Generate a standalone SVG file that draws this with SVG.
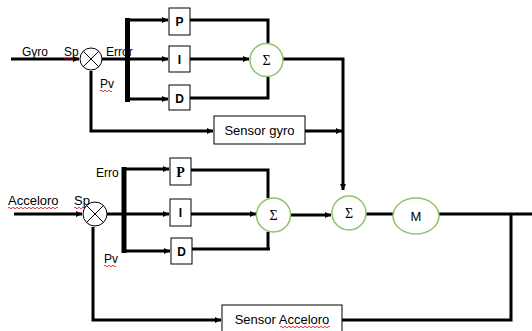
<svg xmlns="http://www.w3.org/2000/svg" width="532" height="331" viewBox="0 0 532 331">
<style>
.ln{stroke:#000;stroke-width:3;fill:none}
.bar{stroke:#000;stroke-width:5;fill:none}
.box{fill:#fff;stroke:#000;stroke-width:1}
.sum{fill:#fff;stroke:#8dc26f;stroke-width:1.5}
.cmp{fill:#fff;stroke:#000;stroke-width:1}
.t{font-family:"Liberation Sans",Arial,sans-serif;font-size:12px;fill:#000}
.t13{font-family:"Liberation Sans",Arial,sans-serif;font-size:13px;fill:#000}
.b{font-family:"Liberation Sans",Arial,sans-serif;font-size:12px;font-weight:bold;fill:#000}
.s{font-family:"Liberation Serif","Times New Roman",serif;font-size:14px;fill:#000}
.sq{stroke:#d00;stroke-width:0.8;fill:none}
</style>
<defs>
<marker id="ah" viewBox="0 0 6 6" refX="6" refY="3" markerWidth="2" markerHeight="2" orient="auto" markerUnits="strokeWidth">
<path d="M0,0 L6,3 L0,6 z" fill="#000"/>
</marker>
</defs>
<g id="connectors">
<line class="ln" x1="11" y1="59" x2="79" y2="59" marker-end="url(#ah)"/>
<line class="ln" x1="101" y1="59" x2="168" y2="59" marker-end="url(#ah)"/>
<line class="bar" x1="127.5" y1="18" x2="127.5" y2="102"/>
<line class="ln" x1="127" y1="20" x2="168" y2="20" marker-end="url(#ah)"/>
<line class="ln" x1="127" y1="99" x2="168" y2="99" marker-end="url(#ah)"/>
<polyline class="ln" points="190,20 268,20 268,43"/>
<line class="ln" x1="190" y1="59" x2="249" y2="59" marker-end="url(#ah)"/>
<polyline class="ln" points="190,98 268,98 268,77"/>
<polyline class="ln" points="283,59 343,59 343,190" marker-end="url(#ah)"/>
<polyline class="ln" points="91,71 91,131 213,131" marker-end="url(#ah)"/>
<line class="ln" x1="305" y1="131" x2="342" y2="131" marker-end="url(#ah)"/>
<line class="ln" x1="14" y1="214" x2="82" y2="214" marker-end="url(#ah)"/>
<line class="ln" x1="107" y1="214" x2="169" y2="214" marker-end="url(#ah)"/>
<line class="bar" x1="124" y1="167" x2="124" y2="253"/>
<line class="ln" x1="124" y1="169" x2="169" y2="169" marker-end="url(#ah)"/>
<line class="ln" x1="124" y1="251" x2="170" y2="251" marker-end="url(#ah)"/>
<polyline class="ln" points="191,170 268,170 268,198"/>
<line class="ln" x1="191" y1="214" x2="256" y2="214" marker-end="url(#ah)"/>
<polyline class="ln" points="192,249 270,249"/>
<line class="ln" x1="268" y1="249" x2="268" y2="232"/>
<line class="ln" x1="290" y1="215" x2="331" y2="215" marker-end="url(#ah)"/>
<line class="ln" x1="366" y1="214" x2="393" y2="214"/>
<line class="ln" x1="439" y1="214" x2="532" y2="214"/>
<polyline class="ln" points="511,214 511,320 342,320"/>
<polyline class="ln" points="93,227 93,320 221,320" marker-end="url(#ah)"/>
</g>
<g id="cmp1">
<circle class="cmp" cx="91" cy="59" r="11"/>
<line x1="83.2" y1="51.2" x2="98.8" y2="66.8" stroke="#000" stroke-width="1"/>
<line x1="98.8" y1="51.2" x2="83.2" y2="66.8" stroke="#000" stroke-width="1"/>
</g>
<g id="cmp2">
<circle class="cmp" cx="95" cy="214" r="12"/>
<line x1="86.5" y1="205.5" x2="103.5" y2="222.5" stroke="#000" stroke-width="1"/>
<line x1="103.5" y1="205.5" x2="86.5" y2="222.5" stroke="#000" stroke-width="1"/>
</g>
<g id="labels">
<text class="t" x="22" y="56">Gyro</text>
<text class="t" x="64" y="56">Sp</text>
<path class="sq" d="M64,59 q1,-1.5 2,0 t2,0 t2,0 t2,0 t2,0"/>
<text class="t" x="106" y="56">Error</text>
<text class="t" x="100" y="88">Pv</text>
<path class="sq" d="M100,91 q1,-1.5 2,0 t2,0 t2,0 t2,0 t2,0 t2,0"/>
<text class="t13" x="8" y="205">Acceloro</text>
<path class="sq" d="M8,208 q1,-1.5 2,0 t2,0 t2,0 t2,0 t2,0 t2,0 t2,0 t2,0 t2,0 t2,0 t2,0 t2,0 t2,0 t2,0 t2,0 t2,0 t2,0 t2,0 t2,0 t2,0 t2,0 t2,0 t2,0 t2,0 t2,0"/>
<text class="t13" x="74" y="205">Sp</text>
<path class="sq" d="M74,208 q1,-1.5 2,0 t2,0 t2,0 t2,0 t2,0"/>
<text class="t" x="96" y="177">Erro</text>
<text class="t" x="104" y="263">Pv</text>
<path class="sq" d="M104,266 q1,-1.5 2,0 t2,0 t2,0 t2,0 t2,0 t2,0"/>
</g>
<g id="p1"><rect class="box" x="169" y="8" width="21" height="27"/><text class="b" x="179.5" y="26" text-anchor="middle">P</text></g>
<g id="i1"><rect class="box" x="169" y="46" width="21" height="26"/><text class="b" x="179.5" y="64" text-anchor="middle">I</text></g>
<g id="d1"><rect class="box" x="169" y="85" width="21" height="25"/><text class="b" x="179.5" y="103" text-anchor="middle">D</text></g>
<g id="sum1"><circle class="sum" cx="266.5" cy="60" r="16.5"/><text class="s" x="266.5" y="65" text-anchor="middle">Σ</text></g>
<g id="sensorgyro"><rect class="box" x="214" y="116" width="91" height="28"/><text class="t13" x="259.5" y="135" text-anchor="middle">Sensor gyro</text></g>
<g id="p2"><rect class="box" x="170" y="158" width="21" height="27"/><text x="180.5" y="177" text-anchor="middle" font-family="Liberation Serif,serif" font-weight="bold" font-size="14">P</text></g>
<g id="i2"><rect class="box" x="170" y="199" width="21" height="27"/><text class="b" x="180.5" y="217" text-anchor="middle">I</text></g>
<g id="d2"><rect class="box" x="171" y="238" width="21" height="26"/><text class="b" x="181.5" y="256" text-anchor="middle">D</text></g>
<g id="sum2"><circle class="sum" cx="273.5" cy="215" r="17"/><text class="s" x="273.5" y="220" text-anchor="middle">Σ</text></g>
<g id="sum3"><circle class="sum" cx="349" cy="213" r="17"/><text class="s" x="349" y="218" text-anchor="middle">Σ</text></g>
<g id="motor"><ellipse class="sum" cx="416" cy="216" rx="23" ry="18"/><text class="t13" x="416" y="221" text-anchor="middle">M</text></g>
<g id="sensoracc"><rect class="box" x="222" y="305" width="120" height="30"/><text class="t13" x="282" y="324" text-anchor="middle">Sensor Acceloro</text>
<path class="sq" d="M280,327 q1,-1.5 2,0 t2,0 t2,0 t2,0 t2,0 t2,0 t2,0 t2,0 t2,0 t2,0 t2,0 t2,0 t2,0 t2,0 t2,0 t2,0 t2,0 t2,0 t2,0 t2,0 t2,0 t2,0 t2,0 t2,0 t2,0"/></g>
</svg>
